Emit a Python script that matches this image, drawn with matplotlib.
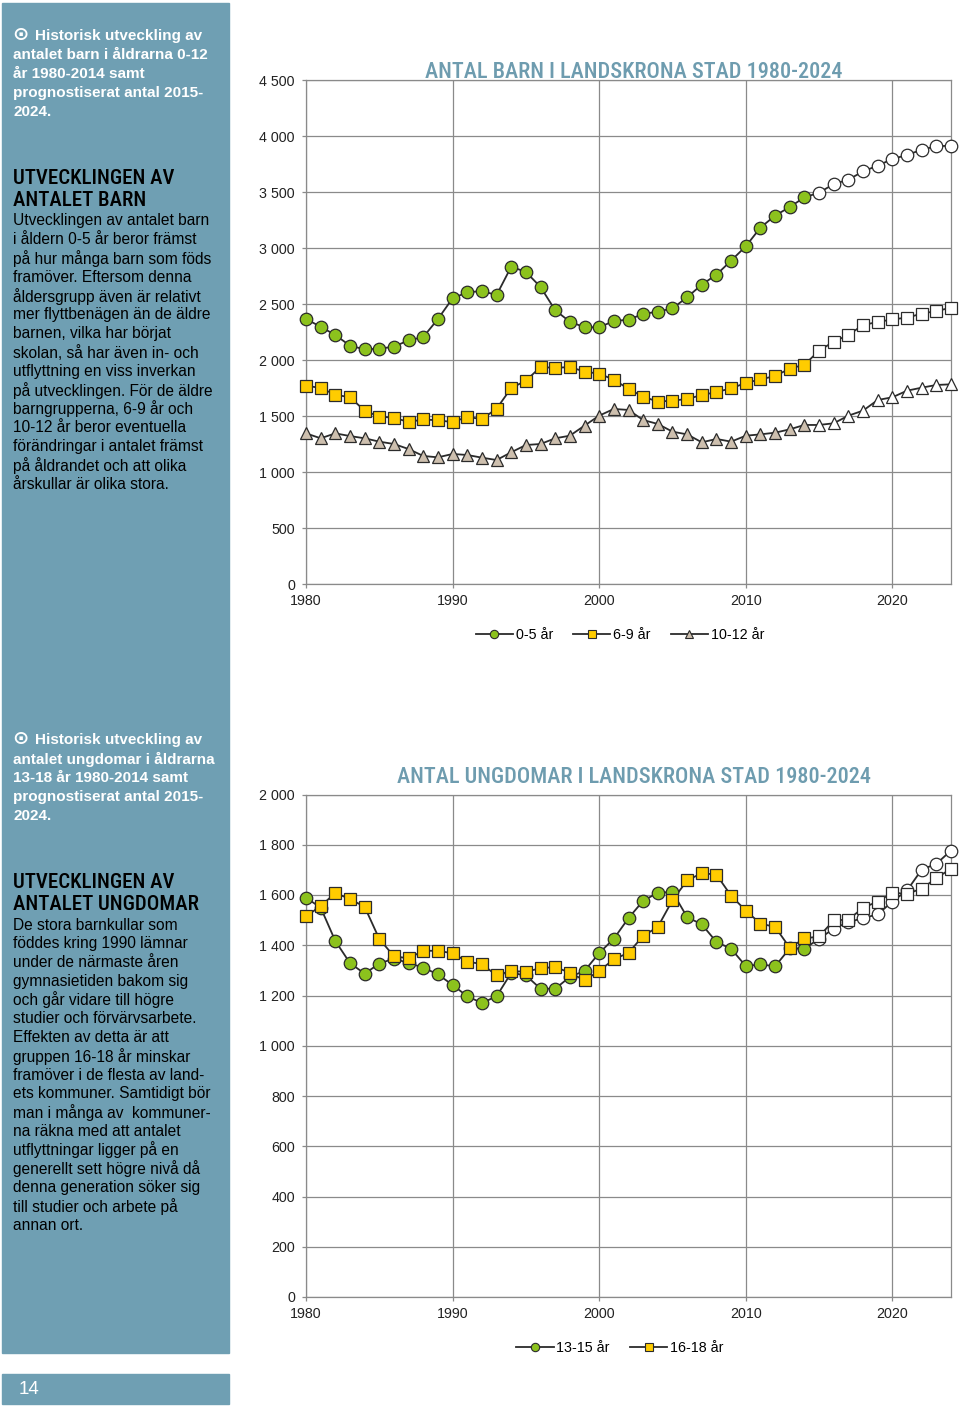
import matplotlib
matplotlib.use("Agg")
import matplotlib.pyplot as plt
from matplotlib.patches import Rectangle
from matplotlib.lines import Line2D
import matplotlib.ticker as mticker

# Data
years = list(range(1980, 2025))
first_forecast = 2015  # 2015-2024 = prognos (open markers)

barn_0_5 = [2366, 2297, 2223, 2128, 2095, 2101, 2119, 2176, 2205, 2366,
            2551, 2604, 2616, 2580, 2833, 2786, 2652, 2444, 2342, 2292,
            2292, 2348, 2360, 2411, 2432, 2461, 2560, 2673, 2762, 2887,
            3015, 3182, 3289, 3366, 3452, 3494, 3571, 3610, 3684, 3735,
            3795, 3830, 3878, 3908, 3914]
barn_6_9 = [1771, 1750, 1690, 1667, 1548, 1494, 1485, 1446, 1470, 1461,
            1446, 1491, 1473, 1565, 1750, 1815, 1938, 1929, 1938, 1896,
            1878, 1824, 1742, 1673, 1628, 1637, 1652, 1687, 1714, 1747,
            1795, 1827, 1857, 1923, 1958, 2083, 2164, 2223, 2313, 2339,
            2363, 2378, 2414, 2437, 2467]
barn_10_12 = [1345, 1301, 1345, 1321, 1301, 1271, 1250, 1205, 1143, 1131,
              1161, 1152, 1128, 1107, 1176, 1241, 1250, 1301, 1324, 1414,
              1503, 1563, 1554, 1464, 1429, 1360, 1336, 1265, 1295, 1271,
              1324, 1336, 1351, 1381, 1420, 1420, 1435, 1503, 1548, 1643,
              1667, 1726, 1753, 1777, 1783]

ungd_13_15 = [1589, 1550, 1417, 1329, 1287, 1327, 1347, 1329, 1311, 1284,
              1242, 1197, 1170, 1197, 1290, 1280, 1227, 1227, 1274, 1298,
              1369, 1426, 1508, 1577, 1609, 1612, 1512, 1483, 1413, 1386,
              1317, 1324, 1316, 1388, 1386, 1426, 1466, 1492, 1508, 1523,
              1574, 1618, 1701, 1724, 1777]
ungd_16_18 = [1515, 1556, 1608, 1584, 1553, 1425, 1356, 1348, 1378, 1378,
              1368, 1335, 1325, 1280, 1298, 1294, 1309, 1313, 1291, 1260,
              1298, 1344, 1370, 1437, 1473, 1579, 1658, 1687, 1681, 1597,
              1538, 1486, 1473, 1390, 1427, 1435, 1499, 1502, 1549, 1574,
              1609, 1605, 1625, 1667, 1705]

labels_barn = ["0-5 år", "6-9 år", "10-12 år"]
labels_ungd = ["13-15 år", "16-18 år"]

title_barn = "ANTAL BARN I LANDSKRONA STAD 1980-2024"
title_ungd = "ANTAL UNGDOMAR I LANDSKRONA STAD 1980-2024"

bullet = "\u2299"
intro_barn = ["Historisk utveckling av", "antalet barn i åldrarna 0-12",
              "år 1980-2014 samt", "prognostiserat antal 2015-", "2024."]
head_barn = ["UTVECKLINGEN AV", "ANTALET BARN"]
body_barn = ["Utvecklingen av antalet barn", "i åldern 0-5 år beror främst",
             "på hur många barn som föds", "framöver. Eftersom denna",
             "åldersgrupp även är relativt", "mer flyttbenägen än de äldre",
             "barnen, vilka har börjat", "skolan, så har även in- och",
             "utflyttning en viss inverkan", "på utvecklingen. För de äldre",
             "barngrupperna, 6-9 år och", "10-12 år beror eventuella",
             "förändringar i antalet främst", "på åldrandet och att olika",
             "årskullar är olika stora."]

intro_ungd = ["Historisk utveckling av", "antalet ungdomar i åldrarna",
              "13-18 år 1980-2014 samt", "prognostiserat antal 2015-", "2024."]
head_ungd = ["UTVECKLINGEN AV", "ANTALET UNGDOMAR"]
body_ungd = ["De stora barnkullar som", "föddes kring 1990 lämnar",
             "under de närmaste åren", "gymnasietiden bakom sig",
             "och går vidare till högre", "studier och förvärvsarbete.",
             "Effekten av detta är att", "gruppen 16-18 år minskar",
             "framöver i de flesta av land-", "ets kommuner. Samtidigt bör",
             "man i många av  kommuner-", "na räkna med att antalet",
             "utflyttningar ligger på en", "generellt sett högre nivå då",
             "denna generation söker sig", "till studier och arbete på",
             "annan ort."]

page_no = "14"

# Styles
W, H = 960, 1412
side_col = "#6f9fb3"
title_col = "#6e9caf"
grid_col = "#8a8a8a"
line_col = "#2b2b2b"
green, yellow, tan = "#8cc21d", "#ffcc00", "#cdbfae"
body_font = ["Liberation Sans", "DejaVu Sans"]
narrow_font = ["Roboto Condensed", "Archivo Narrow", "PT Sans Narrow",
               "Liberation Sans Narrow", "Liberation Sans", "DejaVu Sans"]

plt.rcParams["font.family"] = body_font


def fx(x):
    return x / W


def fy(y):
    return 1 - y / H


fig = plt.figure(figsize=(W / 100, H / 100), dpi=100)

# sidebar panels
fig.patches.append(Rectangle((fx(2), fy(1353)), fx(227), 1350 / H,
                             transform=fig.transFigure, color=side_col, zorder=0))
fig.patches.append(Rectangle((fx(2), fy(1404)), fx(227), 30 / H,
                             transform=fig.transFigure, color=side_col, zorder=0))
fig.text(fx(19), fy(1389), page_no, color="white", fontsize=13.5, va="center")


def write_lines(lines, x, y0, step, **kw):
    for i, s in enumerate(lines):
        fig.text(fx(x), fy(y0 + i * step), s, va="center", **kw)


def intro(lines, y0):
    fig.text(fx(12), fy(y0 - 1), bullet, color="white", fontsize=14,
             fontweight="bold", va="center", family=["DejaVu Sans"])
    fig.text(fx(35), fy(y0), lines[0], color="white", fontsize=11,
             fontweight="bold", va="center")
    write_lines(lines[1:], 13, y0 + 19, 19, color="white", fontsize=11,
                fontweight="bold")


intro(intro_barn, 36)
write_lines(head_barn, 13, 179, 22, color="black", fontsize=15,
            fontweight="medium", family=narrow_font)
write_lines(body_barn, 13, 221, 18.8, color="black", fontsize=11.2)

intro(intro_ungd, 740)
write_lines(head_ungd, 13, 883, 22, color="black", fontsize=15,
            fontweight="medium", family=narrow_font)
write_lines(body_ungd, 13, 925, 18.75, color="black", fontsize=11.2)


def draw_series(ax, values, marker, color, size, label):
    n_hist = years.index(first_forecast)
    ax.plot(years, values, color=line_col, lw=1.3, zorder=3, clip_on=False)
    ax.plot(years[:n_hist], values[:n_hist], ls="none", marker=marker, ms=size,
            mfc=color, mec=line_col, mew=0.9, zorder=4, clip_on=False)
    ax.plot(years[n_hist:], values[n_hist:], ls="none", marker=marker, ms=size,
            mfc="white", mec=line_col, mew=0.9, zorder=4, clip_on=False)
    return Line2D([], [], color=line_col, lw=1.3, marker=marker, ms=6,
                  mfc=color, mec=line_col, mew=0.8, label=label)


def style_axes(ax, ymax, ystep):
    ax.set_xlim(1980, 2024)
    ax.set_ylim(0, ymax)
    ax.set_xticks(list(range(1980, 2021, 10)))
    ax.yaxis.set_major_locator(mticker.MultipleLocator(ystep))
    ax.yaxis.set_major_formatter(mticker.FuncFormatter(
        lambda v, p: f"{v:,.0f}".replace(",", " ")))
    ax.grid(True, color=grid_col, lw=0.9)
    ax.set_axisbelow(True)
    for sp in ax.spines.values():
        sp.set_color(grid_col)
        sp.set_linewidth(0.9)
    ax.tick_params(colors=grid_col, labelcolor="#222222", labelsize=10.3,
                   length=3, width=0.9)
    ax.tick_params(axis="y", pad=5)
    ax.tick_params(axis="x", pad=4)


# top chart: barn
ax1 = fig.add_axes([fx(306), fy(584), fx(645), 504 / H])
style_axes(ax1, 4500, 500)
h1 = [draw_series(ax1, barn_0_5, "o", green, 9, labels_barn[0]),
      draw_series(ax1, barn_6_9, "s", yellow, 8.5, labels_barn[1]),
      draw_series(ax1, barn_10_12, "^", tan, 8.5, labels_barn[2])]
fig.text(fx(634), fy(78), title_barn, color=title_col, fontsize=16,
         fontweight="medium", ha="center", va="baseline", family=narrow_font)
fig.legend(handles=h1, loc="center", bbox_to_anchor=(fx(620), fy(635)), ncol=3,
           frameon=False, fontsize=10.3, handlelength=2.6, columnspacing=1.4,
           handletextpad=0.2)

# bottom chart: ungdomar
ax2 = fig.add_axes([fx(306), fy(1297), fx(645), 502.5 / H])
style_axes(ax2, 2000, 200)
h2 = [draw_series(ax2, ungd_13_15, "o", green, 9, labels_ungd[0]),
      draw_series(ax2, ungd_16_18, "s", yellow, 8.5, labels_ungd[1])]
fig.text(fx(634), fy(783), title_ungd, color=title_col, fontsize=16,
         fontweight="medium", ha="center", va="baseline", family=narrow_font)
fig.legend(handles=h2, loc="center", bbox_to_anchor=(fx(620), fy(1348)), ncol=2,
           frameon=False, fontsize=10.3, handlelength=2.6, columnspacing=1.4,
           handletextpad=0.2)

fig.savefig("out.png", dpi=100)
